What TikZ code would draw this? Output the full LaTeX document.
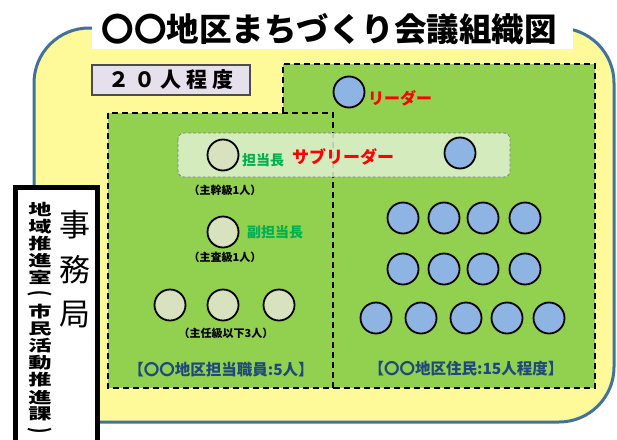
\documentclass[tikz,border=0pt]{standalone}
\usepackage{fontspec}
\setmainfont{Noto Sans CJK JP}
\usepackage{graphicx}
\definecolor{yel}{HTML}{FFFA99}
\definecolor{outblue}{HTML}{41719C}
\definecolor{grn}{HTML}{92D050}
\definecolor{band}{HTML}{E0F0D2}
\definecolor{dotblue}{HTML}{8DB4E2}
\definecolor{dotpale}{HTML}{D8E2BE}
\definecolor{lav}{HTML}{E6E0EC}
\definecolor{txtgreen}{HTML}{00B050}
\definecolor{txtblue}{HTML}{1F497D}
\newcommand{\fs}[1]{\fontsize{#1}{#1}\selectfont}
\newcommand{\vparo}{\rotatebox[origin=c]{-90}{(}}
\newcommand{\vparc}{\rotatebox[origin=c]{-90}{)}}
\begin{document}
\begin{tikzpicture}[x=1pt,y=-1pt,
  grpline/.style={draw=black, line width=1.8pt, dash pattern=on 6pt off 4pt},
  dotb/.style={circle, draw=black, line width=1.8pt, fill=dotblue, minimum size=31pt, inner sep=0pt},
  dotp/.style={circle, draw=black, line width=1.8pt, fill=dotpale, minimum size=31pt, inner sep=0pt},
  small/.style={font=\bfseries\fs{11}, inner sep=0pt},
  role/.style={font=\bfseries\fs{14}, text=txtgreen, inner sep=0pt, anchor=west},
  red/.style={font=\bfseries\fs{16}, text=red, inner sep=0pt},
  grpname/.style={font=\bfseries\fs{15.5}, text=txtblue, inner sep=0pt}
]
\useasboundingbox (0,0) rectangle (617,439);
\fill[white] (0,0) rectangle (617,439);
% outer yellow frame
\draw[fill=yel, draw=outblue, line width=3pt, rounded corners=55pt] (34,28) rectangle (614,422);
% title
\fill[white] (92,-2) rectangle (573,49);
\node[font=\bfseries\fs{32.5}, inner sep=0pt] (title) at (329,29) {〇〇地区まちづくり会議組織図};
% 20 people box
\node[draw=black!70, line width=1.2pt, fill=lav, minimum width=158pt, minimum height=30pt, inner sep=0pt,
  font=\bfseries\fs{21}] (twenty) at (171,80) {２\hspace{5pt}０\hspace{5pt}人\hspace{5pt}程\hspace{5pt}度};
% green groups
\fill[grn] (283,113) -- (283,64) -- (595,64) -- (595,388) -- (333,388) -- (333,113) -- cycle;
\fill[grn] (108,113) rectangle (333,388);
\draw[grpline] (283,113) -- (283,64) -- (595,64) -- (595,388) -- (333,388);
\draw[grpline] (108,113) rectangle (333,388);
% sub leader band
\draw[fill=band, fill opacity=0.85, draw=gray, line width=0.8pt, dash pattern=on 3pt off 2pt, rounded corners=6pt]
  (178,133) rectangle (510,177);
% leader
\node[dotb] (leader) at (349,92) {};
\node[red, anchor=west] (leaderlbl) at (368,98) {リーダー};
% staff
\node[dotp] (chief) at (223,155) {};
\node[role] (chieflbl) at (242,160) {担当長};
\node[red, font=\bfseries\fs{17}] (sublbl) at (343,157) {サブリーダー};
\node[dotb] (subres) at (460,153) {};
\node[small] (chiefrank) at (225,190) {（主幹級1人）};
\node[dotp] (vice) at (223,232) {};
\node[role] (vicelbl) at (247,232) {副担当長};
\node[small] (vicerank) at (225,257) {（主査級1人）};
\node[dotp] (s1) at (170,305) {};
\node[dotp] (s2) at (223,305) {};
\node[dotp] (s3) at (279,305) {};
\node[small] (srank) at (226,333) {（主任級以下3人）};
\node[grpname] (staffgrp) at (221,370) {【〇〇地区担当職員:5人】};
% residents
\foreach \x [count=\i] in {403,444,483,525} {
  \node[dotb] (ra\i) at (\x,218) {};
  \node[dotb] (rb\i) at (\x,269) {};
}
\foreach \x [count=\i] in {376,421,466,507,549} {
  \node[dotb] (rc\i) at (\x,318) {};
}
\node[grpname] (resgrp) at (466,369) {【〇〇地区住民:15人程度】};
% secretariat box
\draw[fill=white, draw=black, line width=5pt] (15.5,445) -- (15.5,187.5) -- (97.5,187.5) -- (97.5,445);
\foreach \c [count=\i] in {事,務,局} {
  \node[font=\fs{31}, inner sep=0pt] (jm\i) at (75,225+45*\i-45) {\c};
}
\foreach \c [count=\i] in {地,域,推,進,室,\vparo,市,民,活,動,推,進,課,\vparc} {
  \node[font=\bfseries\fs{15.5}, inner sep=0pt] (v\i) at (40,209+17.1*\i-17.1) {\scalebox{1.5}[1]{\c}};
}
\end{tikzpicture}
\end{document}
